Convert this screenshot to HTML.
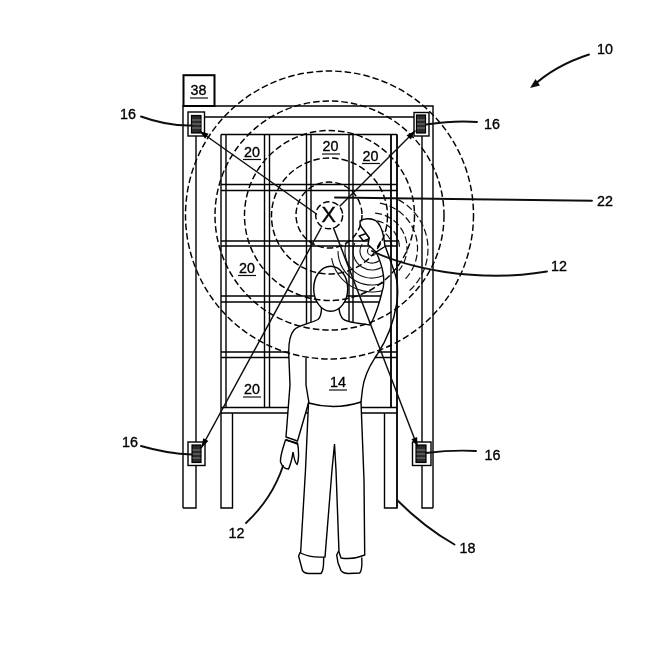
<!DOCTYPE html>
<html><head><meta charset="utf-8"><title>Figure</title>
<style>
html,body{margin:0;padding:0;background:#fff;}
body{width:659px;height:659px;overflow:hidden;}
svg{display:block;}
text{font-family:"Liberation Sans",sans-serif;font-size:15px;fill:#000;stroke:#000;stroke-width:0.35;}
.t{stroke:#000;stroke-width:1.4;fill:none;}
.w{stroke:#000;stroke-width:1.4;fill:#fff;}
.k{stroke:#111;stroke-width:1.9;fill:none;stroke-linecap:round;}
.d{stroke:#000;stroke-width:1.45;fill:none;stroke-dasharray:6.5 3;}
.a{stroke:#111;stroke-width:1.1;fill:none;}
.ad{stroke:#111;stroke-width:1.2;fill:none;stroke-dasharray:7 3;}
.u{stroke:#111;stroke-width:1.2;}
</style></head><body>
<svg width="659" height="659" viewBox="0 0 659 659">
<defs><filter id="soft" x="0" y="0" width="659" height="659" filterUnits="userSpaceOnUse"><feGaussianBlur stdDeviation="0.4"/></filter></defs>
<rect width="659" height="659" fill="#fff"/>
<g filter="url(#soft)">

<!-- outer frame -->
<g class="t">
<path d="M183 508V106H433V508"/>
<path d="M183 508H196V117"/>
<path d="M433 508H422V117"/>
<path d="M196 117H422"/>
</g>

<!-- shelf unit -->
<g class="t">
<path d="M221 134.5H397"/>
<path d="M221 134.5V508H232.5V413"/>
<path d="M397 134.5V508H384.5V413"/>
<path d="M226 134.5V407.5"/>
<path d="M391 134.5V407.5"/>
<path d="M264.5 134.5V407.5M269.5 134.5V407.5"/>
<path d="M306.5 134.5V407.5M311 134.5V407.5"/>
<path d="M349 134.5V407.5M353 134.5V407.5"/>
<path d="M221 184.5H397M221 190.5H397"/>
<path d="M221 241H397M221 246H397"/>
<path d="M221 296H397M221 302H397"/>
<path d="M221 352H397M221 357.5H397"/>
<path d="M221 407.5H397M221 413H397"/>
</g>

<!-- box 38 -->
<rect class="w" x="183.500" y="75.200" width="31" height="30.800" style="stroke-width:2"/>

<!-- person -->
<g class="w">
<path stroke="none" d="M321.500 307C321.500 313 321 317 318 319.500C311 323.500 299 324.500 294 330C290 334.500 288.700 343 288.700 352L290 385L286 437L297.500 441L308.500 403Q335 410.500 361 402L362.500 389C364 377 369 366 377.500 354L370 325C360 323.500 346 322.500 342.500 318.500C340 315 339 311 339 307Z"/>
<path fill="none" d="M321.500 307C321.500 313 321 317 318 319.500C311 323.500 299 324.500 294 330C290 334.500 288.700 343 288.700 352L290 385L286 437L297.500 441L308.500 403"/>
<path fill="none" d="M361 402L362.500 389C364 377 369 366 377.500 354"/>
<path fill="none" d="M339 307C339 311 340 315 342.500 318.500C346 322.500 360 323.500 370 325"/>
<path d="M300.300 552L298.600 556L302.500 570.600Q305 574 309.500 573.500L321 573.500Q324 570 323.600 557"/>
<path d="M338.600 551L336.700 555L338 562.700L341 570.600Q344 574 349 573.500L359.700 573Q362.500 570 361.700 557.500"/>
<path d="M308.500 403Q335 410.500 361 402L364 480L364.700 555Q352 560 341 558L339 552L336 470L334.500 444L332 470L325 557Q310 558 300.600 553L305.500 470Z"/>
<ellipse cx="330.700" cy="288.700" rx="17" ry="22.500"/>
<path d="M285.500 440C283 448 280 456 280.500 462C282 466 285 469 288.500 469C290 466 291 462 292 458L293 452C294 458 295 463 297 464.500C299 460 299 450 297.500 443Z"/>
</g>
<g class="t">
<path d="M306 357.500V385L309 403"/>
<path d="M285.700 439.500L297.300 444"/>
</g>

<!-- arcs around hand-held device -->
<g class="a">
<circle cx="372" cy="251" r="4.500"/>
<path d="M384.0 251.0A12 12 0 1 1 362.2 244.1"/>
<path d="M386.6 263.2A19 19 0 0 1 354.8 243.0"/>
<path d="M389.4 271.7A27 27 0 0 1 345.9 244.0"/>
<path d="M391.5 278.9A34 34 0 0 1 338.0 251.0"/>
<path d="M391.2 287.2A41 41 0 0 1 331.6 258.1"/>
</g>

<g class="ad">
<path d="M377.2 228.7A20 20 0 0 1 391.9 246.3"/>
<path d="M376.8 220.9A27.5 27.5 0 0 1 399.5 248.0"/>
<path d="M375.1 213.1A35 35 0 0 1 398.8 270.5"/>
<path d="M379.9 203.2A45.5 45.5 0 0 1 404.2 280.2"/>
<path d="M398.3 199.6A56 56 0 0 1 408.0 291.9"/>
</g>

<!-- raised arm over arcs -->
<path d="M370 325C373.500 320 379 305 382 292C385.500 283 384 268 376 252L385.500 247L393.700 270C397 278 398.500 290 397 301.500C394 322 388 338 377.500 354Z" fill="#fff" stroke="none"/>
<path class="t" d="M370 325C373.500 320 379 305 382 292C385.500 283 384 268 376 252"/>
<path class="t" d="M385.500 247L393.700 270C397 278 398.500 290 397 301.500C394 322 388 338 377.500 354"/>
<path class="w" d="M359.300 236L366 233.500L370 238.500L363.500 241Z"/>
<path class="w" d="M360 221C363.500 218 371 218 375.500 220.500C380 223.500 382.500 231 383.700 237L385 246.500L376 252L368 244.500L369.300 238L360.200 225.500Z"/>
<path class="t" d="M380.700 241.300L377.300 247.300"/>

<!-- right shelf post redrawn over arm -->
<g class="t"><path d="M391 134.500V407.500M397 134.500V508"/></g>



<!-- dashed circles around X -->
<g class="d">
<circle cx="329.200" cy="215.300" r="13.500"/>
<circle cx="329" cy="215" r="33"/>
<circle cx="329.5" cy="216" r="58"/>
<circle cx="329.5" cy="215.5" r="85"/>
<circle cx="329.5" cy="215.5" r="114.5"/>
<circle cx="329.5" cy="215" r="144"/>
</g>

<!-- sensors -->
<g>
<rect class="w" x="188" y="112" width="16.500" height="24"/>
<rect x="191.500" y="115.500" width="9.500" height="17.500" fill="#2a2a2a" stroke="#000" stroke-width="1.2"/>
<rect class="w" x="414" y="112.500" width="15" height="23.500"/>
<rect x="416.500" y="115" width="9" height="18" fill="#2a2a2a" stroke="#000" stroke-width="1.2"/>
<rect class="w" x="188" y="442" width="17" height="23.500"/>
<rect x="192" y="445" width="9" height="17.500" fill="#2a2a2a" stroke="#000" stroke-width="1.2"/>
<rect class="w" x="412.500" y="442" width="18.500" height="23.500"/>
<rect x="416" y="445" width="10" height="17.500" fill="#2a2a2a" stroke="#000" stroke-width="1.2"/>
<g stroke="#bbb" stroke-width="0.6">
<path d="M192 120H201M192 124H201M192 128H201"/>
<path d="M417 120H425M417 124H425M417 128H425"/>
<path d="M192.500 450H200.500M192.500 454H200.500M192.500 458H200.500"/>
<path d="M416.500 450H425.500M416.500 454H425.500M416.500 458H425.500"/>
</g>
</g>

<!-- sight lines -->
<g class="k" style="stroke-width:1.5">
<path d="M316.500 214L200 131.500"/>
<path d="M340 206L415 131"/>
<path d="M321 228L201.500 447.500"/>
<path d="M333.500 228L417.500 446.500"/>
</g>
<g fill="#000">
<path d="M199.500 131L208.600 133.800L205.100 138.700Z"/>
<path d="M415.500 130.500L410.800 139.500L406.500 135.200Z"/>
<path d="M201.300 448L208.400 441L203.200 438.200Z"/>
<path d="M417.700 447L417.100 437L411.500 439.200Z"/>
</g>

<!-- leaders -->
<g class="k">
<path d="M589 54.500C566 62 548 72 533 86"/>
<path d="M141 116.500C156 122 172 126 192 125.500"/>
<path d="M477 122C460 120.500 443 122 426 124.500"/>
<path d="M335 197.500L592 200.700"/>
<path d="M372 251C395 262 420 268 445 272C480 277 515 277 547 271.500"/>
<path d="M141 446C158 451 174 454 192 454.500"/>
<path d="M476 451C458 450 442 451 426 453"/>
<path d="M246 523C262 508 275 490 283 466"/>
<path d="M397 500C415 518 434 533 454.500 544.500"/>
</g>
<path d="M530 88L535.500 79L540 85.500Z" fill="#111"/>

<!-- X -->
<text x="328.600" y="222" text-anchor="middle" style="font-size:21.500px;stroke-width:0.4">X</text>

<!-- labels -->
<text transform="translate(597 53.5) scale(0.955 1)">10</text>
<text transform="translate(190.5 94.7) scale(0.955 1)">38</text><path class="u" d="M190 98H208"/>
<text transform="translate(120 118.7) scale(0.955 1)">16</text>
<text transform="translate(484 129.2) scale(0.955 1)">16</text>
<text transform="translate(597 205.8) scale(0.955 1)">22</text>
<text transform="translate(551 270.7) scale(0.955 1)">12</text>
<text transform="translate(122 447.2) scale(0.955 1)">16</text>
<text transform="translate(484.5 459.5) scale(0.955 1)">16</text>
<text transform="translate(228.5 537.7) scale(0.955 1)">12</text>
<text transform="translate(459.5 552.7) scale(0.955 1)">18</text>
<text transform="translate(244 156.7) scale(0.955 1)">20</text><path class="u" d="M243 159.500H261"/>
<text transform="translate(322.5 150.7) scale(0.955 1)">20</text><path class="u" d="M322 154H340"/>
<text transform="translate(362.5 160.7) scale(0.955 1)">20</text><path class="u" d="M362 163.500H380"/>
<text transform="translate(239 272.7) scale(0.955 1)">20</text><path class="u" d="M238 275.500H256"/>
<text transform="translate(244 394.2) scale(0.955 1)">20</text><path class="u" d="M243 397H261"/>
<text transform="translate(330 387.2) scale(0.955 1)">14</text><path class="u" d="M329 390H347"/>
</g>
</svg>
</body></html>
